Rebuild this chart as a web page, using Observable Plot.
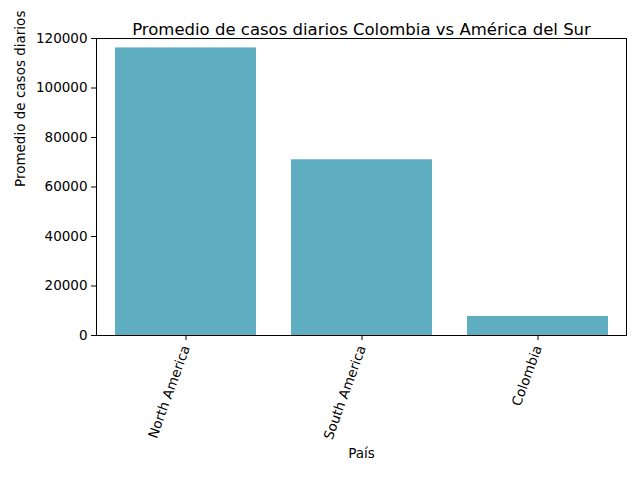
<!DOCTYPE html>
<html>
<head>
<meta charset="utf-8">
<script src="https://cdn.jsdelivr.net/npm/d3@7"></script>
<script src="https://cdn.jsdelivr.net/npm/@observablehq/plot@0.6"></script>
<style>body{margin:0;background:#fff}</style>
</head>
<body>
<div id="chart"></div>
<script>
const regiones = ["North America", "South America", "Colombia"];
const promedios = [116200, 71000, 7700];
const yTicks = [0, 20000, 40000, 60000, 80000, 100000, 120000];

const data = regiones.map((r, i) => ({region: r, casos: promedios[i]}));

const chart = Plot.plot({
  width: 640,
  height: 480,
  marginTop: 38,
  marginLeft: 96,
  marginRight: 14,
  marginBottom: 145,
  style: {fontFamily: "DejaVu Sans", fontSize: "13.5px", color: "#000", background: "#fff"},
  x: {domain: regiones, paddingInner: 0.2, paddingOuter: 0.1, label: null},
  y: {domain: [0, 120000], label: null},
  marks: [
    Plot.barY(data, {x: "region", y: "casos", fill: "#5fadc1"}),
    Plot.frame({stroke: "#000"}),
    Plot.axisY({ticks: yTicks, tickFormat: d => String(d), tickSize: 5, label: null}),
    Plot.axisX({tickRotate: -70, tickSize: 5, label: null, textAnchor: "end"}),
    Plot.text(["Promedio de casos diarios Colombia vs América del Sur"], {frameAnchor: "top", dy: -15, fontSize: 16.5}),
    Plot.text(["País"], {frameAnchor: "bottom", dy: 122, fontSize: 13.5}),
    Plot.text(["Promedio de casos diarios"], {frameAnchor: "left", dx: -76, rotate: -90, fontSize: 13.5})
  ]
});
document.getElementById("chart").append(chart);
</script>
</body>
</html>
